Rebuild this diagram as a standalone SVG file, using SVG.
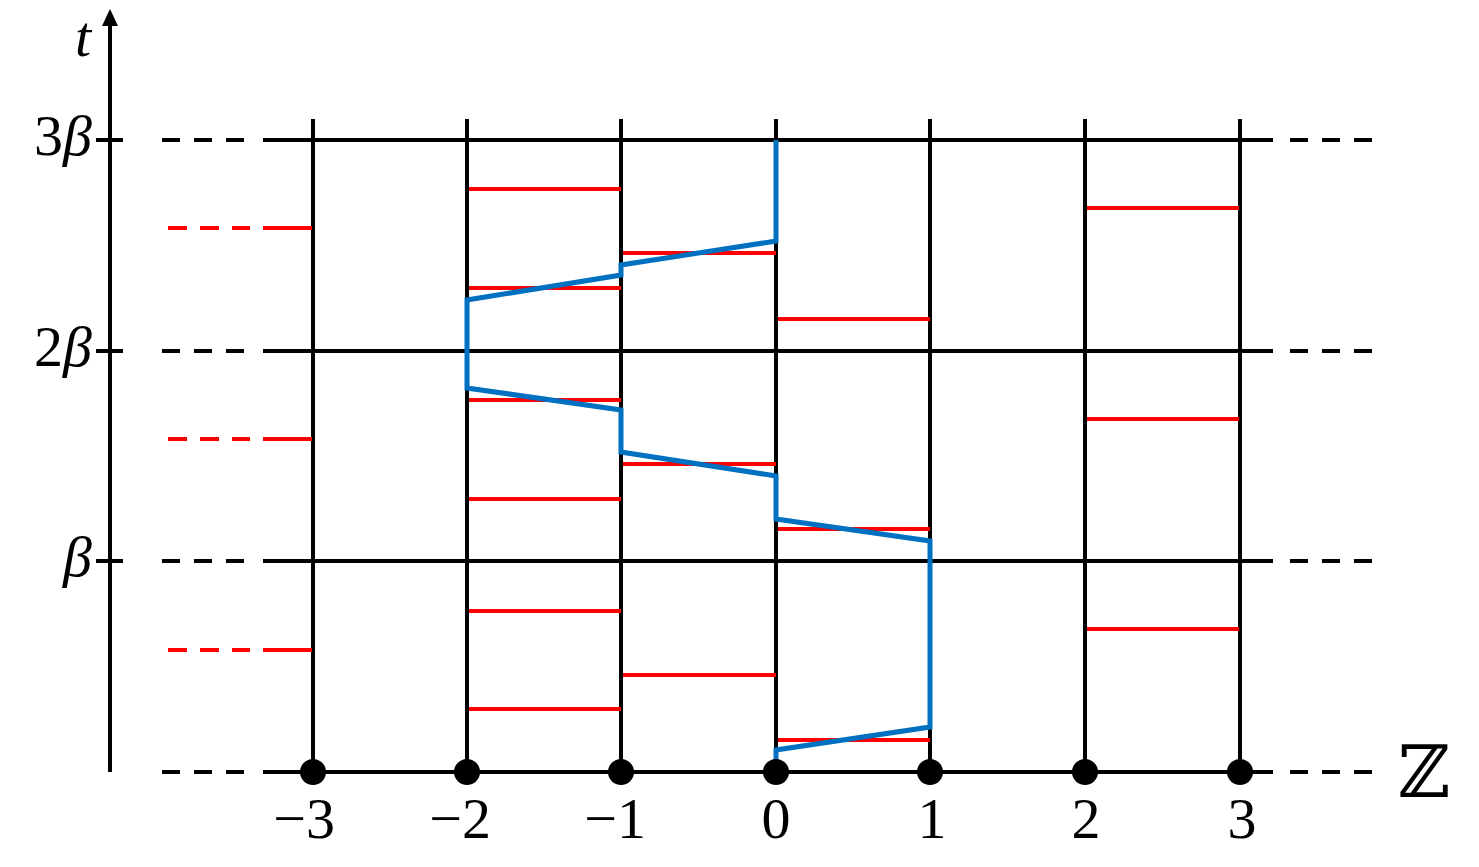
<svg xmlns="http://www.w3.org/2000/svg" width="1479" height="867" viewBox="0 0 1479 867">
<style>
.grid{stroke:#000;stroke-width:4;fill:none}
.dash{stroke:#000;stroke-width:4;fill:none;stroke-dasharray:18 14}
.red{stroke:#FF0000;stroke-width:4;fill:none}
.reddash{stroke:#FF0000;stroke-width:4;fill:none;stroke-dasharray:19 13}
.blue{stroke:#0070C0;stroke-width:5;fill:none;stroke-linejoin:miter}
.lbl{font-family:"Liberation Serif",serif;font-size:58px;fill:#000}
.it{font-style:italic}
</style>
<rect width="1479" height="867" fill="#fff"/>
<g id="axes">
<line class="grid" x1="110" y1="772" x2="110" y2="22"/>
<polygon points="110,9 102,26 118,26" fill="#000"/>
<line class="grid" x1="96" y1="140" x2="123" y2="140"/>
<line class="grid" x1="96" y1="351" x2="123" y2="351"/>
<line class="grid" x1="96" y1="561" x2="123" y2="561"/>
</g>
<g id="grid">
<line class="grid" x1="263" y1="140" x2="1273" y2="140"/>
<line class="grid" x1="263" y1="351" x2="1273" y2="351"/>
<line class="grid" x1="263" y1="561" x2="1273" y2="561"/>
<line class="grid" x1="263" y1="772" x2="1273" y2="772"/>
<path class="dash" d="M162,140H244M162,351H244M162,561H244M162,772H244"/>
<path class="dash" d="M1290,140H1372M1290,351H1372M1290,561H1372M1290,772H1372"/>
<line class="grid" x1="313" y1="119" x2="313" y2="772"/>
<line class="grid" x1="467" y1="119" x2="467" y2="772"/>
<line class="grid" x1="621" y1="119" x2="621" y2="772"/>
<line class="grid" x1="776" y1="119" x2="776" y2="772"/>
<line class="grid" x1="930" y1="119" x2="930" y2="772"/>
<line class="grid" x1="1085" y1="119" x2="1085" y2="772"/>
<line class="grid" x1="1240" y1="119" x2="1240" y2="772"/>
</g>
<g id="red-segments">
<path class="reddash" d="M168,228H250M168,439H250M168,650H250"/>
<path class="red" d="M263,228H312M263,439H312M263,650H312"/>
<path class="red" d="M469,189H621M469,288H621M469,400H621M469,499H621M469,611H621M469,709H621"/>
<path class="red" d="M623,253H776M623,464H776M623,675H776"/>
<path class="red" d="M778,319H930M778,529H930M778,740H930"/>
<path class="red" d="M1087,208H1239M1087,419H1239M1087,629H1239"/>
</g>
<g id="connectors">
<path class="blue" d="M776,772V750L930,727V541L776,519V476L621,452V410L467,388V300L621,275V265L776,241V140"/>
</g>
<g id="dots" fill="#000">
<circle cx="313" cy="772" r="13"/>
<circle cx="467" cy="772" r="13"/>
<circle cx="621" cy="772" r="13"/>
<circle cx="776" cy="772" r="13"/>
<circle cx="930" cy="772" r="13"/>
<circle cx="1085" cy="772" r="13"/>
<circle cx="1240" cy="772" r="13"/>
</g>
<g id="labels">
<text class="lbl it" x="83" y="56" text-anchor="middle">t</text>
<text class="lbl" x="92" y="155" text-anchor="end">3<tspan class="it">β</tspan></text>
<text class="lbl" x="92" y="366" text-anchor="end">2<tspan class="it">β</tspan></text>
<text class="lbl it" x="92" y="576" text-anchor="end">β</text>
<text class="lbl" x="335" y="838" text-anchor="end">−3</text>
<text class="lbl" x="491" y="838" text-anchor="end">−2</text>
<text class="lbl" x="646" y="838" text-anchor="end">−1</text>
<text class="lbl" x="776" y="838" text-anchor="middle">0</text>
<text class="lbl" x="932" y="838" text-anchor="middle">1</text>
<text class="lbl" x="1086" y="838" text-anchor="middle">2</text>
<text class="lbl" x="1242" y="838" text-anchor="middle">3</text>
<text x="1424" y="797" text-anchor="middle" font-family="DejaVu Serif, DejaVu Sans, serif" font-size="72">ℤ</text>
</g>
</svg>
